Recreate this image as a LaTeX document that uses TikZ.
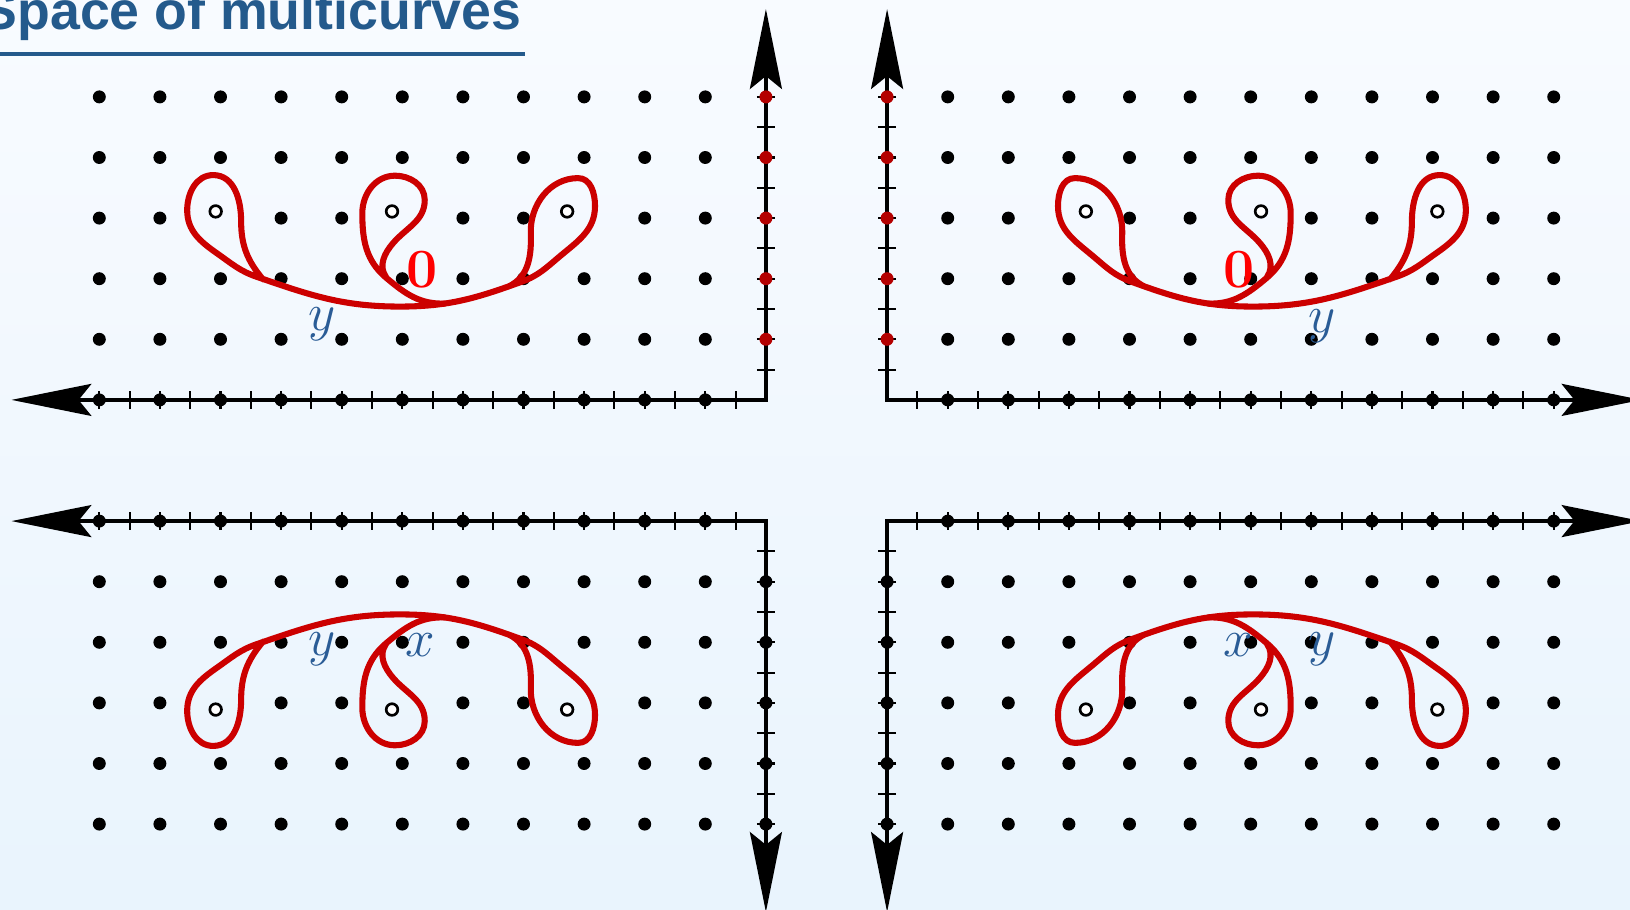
\documentclass[tikz,border=0pt]{standalone}
\usepackage{fontspec}
\newfontfamily\titlefont{Liberation Sans}
\usetikzlibrary{arrows.meta}
\definecolor{bgtop}{RGB}{248,251,255}
\definecolor{bgbot}{RGB}{233,244,253}
\definecolor{titleblue}{RGB}{36,90,140}
\definecolor{labelblue}{RGB}{42,92,150}
\definecolor{curvered}{RGB}{204,0,0}
\definecolor{axisred}{RGB}{180,0,0}
\definecolor{zerored}{RGB}{255,0,0}
\tikzset{
  bigtip/.tip={Stealth[length=37.5pt,width=15pt,inset=6pt]},
  axisline/.style={line width=1.9pt,arrows={bigtip-bigtip},line join=miter},
  ticky/.style={line width=1pt},
  latdot/.style={fill=black},
  curve/.style={curvered,line width=2.85pt,line cap=round,line join=round},
  puncture/.style={draw=black,fill=white,line width=1.25pt},
  lab/.style={text=labelblue,inner sep=0pt,anchor=base,font=\fontsize{26}{30}\selectfont},
  zerolab/.style={text=zerored,inner sep=0pt,anchor=base,font=\fontsize{26}{30}\selectfont\bfseries},
}
\newcommand\mcurve{%
\draw[curve] (-8.30,1.99) to[out=130,in=270] (-8.66,2.95) to[out=90,in=0] (-9.12,3.71)
  to[out=180,in=90] (-9.55,3.13) to[out=270,in=145] (-9.06,2.42) to[out=-35,in=161] (-8.40,2.03)
  to[out=-19,in=180] (-6.04,1.54) to[out=0,in=200] (-4.03,1.95) to[out=20,in=220] (-3.40,2.37)
  to[out=40,in=270] (-2.82,3.20) to[out=90,in=0] (-3.10,3.66) to[out=180,in=92] (-3.88,2.75)
  to[out=272,in=25] (-4.25,1.87);
\draw[curve] (-5.30,1.59) to[out=182,in=-40] (-6.26,2.01) to[out=140,in=270] (-6.66,3.08)
  to[out=90,in=180] (-6.12,3.70) to[out=0,in=90] (-5.63,3.30) to[out=270,in=49] (-6.15,2.59)
  to[out=229,in=125] (-6.27,2.03);
}
\newcommand\quadrant[6]{%
\begin{scope}[shift={(#1,#2)},xscale=#3,yscale=#4]
 \foreach \i in {1,...,11}{\foreach \j in {1,...,5}{%
   \pgfmathtruncatemacro\skipit{(\j==3)&&(mod(\i,3)==0)&&(\i<10)}%
   \ifnum\skipit=0 \fill[latdot] (-\i,\j) circle[radius=0.107];\fi}}
 \foreach \k in {1,...,22} \draw[ticky] (-\k/2,-0.15) -- (-\k/2,0.15);
 \foreach \k in {1,...,10} \draw[ticky] (-0.15,\k/2) -- (0.15,\k/2);
 \coordinate (#6h) at (-12.45,0);
 \coordinate (#6c) at (0,0);
 \coordinate (#6v) at (0,6.45);
 \draw[axisline] (#6h) -- (#6c) -- (#6v);
 \foreach \i in {1,...,11} \fill[latdot] (-\i,0) circle[radius=0.107];
 \foreach \j in {1,...,5} \fill[#5] (0,\j) circle[radius=0.107];
 \mcurve
 \foreach \p in {-9.08,-6.17,-3.28} \filldraw[puncture] (\p,3.11) circle[radius=0.096];
\end{scope}}
\begin{document}
\begin{tikzpicture}
\useasboundingbox (-13.639,-7.417) rectangle (13.259,7.599);
\clip (-13.639,-7.417) rectangle (13.259,7.599);
\shade[top color=bgtop,bottom color=bgbot] (-13.639,-7.417) rectangle (13.259,7.599);
\quadrant{-1}{1}{1}{1}{axisred}{tl}
\quadrant{1}{1}{-1}{1}{axisred}{tr}
\quadrant{-1}{-1}{1}{-1}{black}{bl}
\quadrant{1}{-1}{-1}{-1}{black}{br}
\node[zerolab] (z1) at (-6.68,2.851) {0};
\node[zerolab] (z2) at (6.807,2.851) {0};
\node[lab] (y1) at (-8.317,2.147) {$y$};
\node[lab] (y2) at (8.172,2.12) {$y$};
\node[lab] (y3) at (-8.317,-3.216) {$y$};
\node[lab] (x3) at (-6.708,-3.238) {$x$};
\node[lab] (x4) at (6.795,-3.238) {$x$};
\node[lab] (y4) at (8.172,-3.216) {$y$};
\node[anchor=base east,inner sep=0pt,text=titleblue,font=\titlefont\bfseries\fontsize{25.2}{30}\selectfont] (title) at (-5.025,7.104) {Space of multicurves};
\draw[titleblue,line width=1.95pt] (-13.7,6.708) -- (-4.975,6.708);
\end{tikzpicture}
\end{document}
